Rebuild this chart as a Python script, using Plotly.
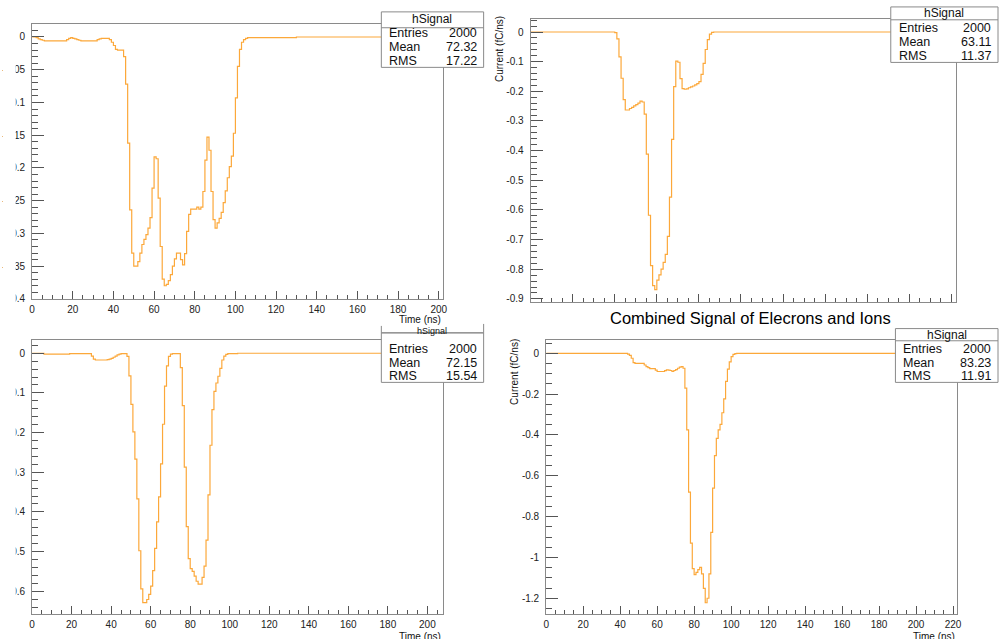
import plotly.graph_objects as go

W, H = 1004, 639

# ---------------- data (bin contents, 1 ns bins starting at 0 ns) ----------------
bin_width_ns = 1.0

tl_values = [
    0.0, 0.0, -0.001, -0.003, -0.004, -0.005,
    -0.006, -0.006, -0.006, -0.006, -0.006, -0.006, -0.006, -0.006, -0.006, -0.006, -0.006,
    -0.004, -0.002, -0.001, -0.002, -0.003, -0.004, -0.005,
    -0.006, -0.006, -0.006, -0.006, -0.006, -0.006, -0.006, -0.006,
    -0.004, -0.003, -0.002, -0.002, -0.002, -0.002,
    -0.004, -0.008, -0.013, -0.019, -0.020, -0.020, -0.020, -0.030,
    -0.072, -0.162, -0.264, -0.330, -0.350, -0.350, -0.343, -0.330, -0.317, -0.309,
    -0.302, -0.292, -0.276, -0.231, -0.183, -0.186, -0.246, -0.320, -0.370, -0.380,
    -0.378, -0.372, -0.363, -0.350, -0.339, -0.330, -0.330, -0.340, -0.348, -0.331,
    -0.297, -0.271, -0.263, -0.263, -0.263, -0.260, -0.263, -0.260, -0.236, -0.188,
    -0.153, -0.173, -0.236, -0.279, -0.292, -0.284, -0.277, -0.268, -0.253, -0.235,
    -0.215, -0.198, -0.182, -0.147, -0.093, -0.045, -0.019, -0.008, -0.004, -0.002,
    -0.001, -0.001, -0.001, -0.001, -0.001, -0.001, -0.001, -0.001, -0.001, -0.001,
    -0.001, -0.001, -0.001, -0.001, -0.001, -0.001, -0.001, -0.001, -0.001, -0.001,
    -0.001, -0.001, -0.001, -0.001,
]

tr_values = [0.0] * 40 + [
    -0.002, -0.023, -0.084, -0.156, -0.228, -0.263, -0.263, -0.258, -0.254, -0.249,
    -0.245, -0.240, -0.233, -0.236, -0.277, -0.412, -0.618, -0.788, -0.855, -0.869,
    -0.837, -0.819, -0.800, -0.777, -0.750, -0.689, -0.557, -0.362, -0.184, -0.098,
    -0.102, -0.157, -0.191, -0.193, -0.192, -0.188, -0.185, -0.182, -0.178, -0.174,
    -0.167, -0.143, -0.106, -0.059, -0.026, -0.007, -0.001,
]

bl_values = [
    0.0, 0.0, 0.0, 0.0, 0.0, 0.0,
    -0.002, -0.002, -0.002, -0.002, -0.002, -0.002, -0.002, -0.002, -0.002, -0.002,
    -0.002, -0.002, -0.002,
    -0.001, -0.001, -0.001, -0.001, -0.001, -0.001, -0.001, -0.001, -0.001, -0.001, -0.001,
    -0.007, -0.015, -0.017, -0.017, -0.017, -0.017, -0.017, -0.017, -0.016, -0.015,
    -0.013, -0.010, -0.007, -0.004, -0.002, -0.001, -0.001, -0.001, -0.008, -0.057,
    -0.129, -0.198, -0.267, -0.367, -0.498, -0.594, -0.629, -0.629, -0.621, -0.608,
    -0.587, -0.548, -0.492, -0.425, -0.362, -0.279, -0.179, -0.083, -0.032, -0.008,
    -0.002, -0.001, -0.001, -0.001, -0.001, -0.036, -0.132, -0.287, -0.437, -0.518,
    -0.543, -0.550, -0.562, -0.575, -0.582, -0.582, -0.565, -0.537, -0.471, -0.357,
    -0.232, -0.142, -0.096, -0.075, -0.058, -0.038, -0.017, -0.007, -0.003, -0.001,
    -0.001, -0.001, -0.001, -0.001,
]

br_values = [0.0] * 44 + [
    -0.004, -0.010, -0.024, -0.045, -0.049, -0.049, -0.049, -0.049, -0.049, -0.057,
    -0.065, -0.070, -0.075, -0.075, -0.075, -0.082, -0.089, -0.089, -0.089, -0.089,
    -0.085, -0.081, -0.082, -0.084, -0.089, -0.084, -0.080, -0.073, -0.068, -0.065,
    -0.073, -0.170, -0.375, -0.680, -0.930, -1.055, -1.084, -1.073, -1.060, -1.049,
    -1.081, -1.152, -1.222, -1.200, -1.081, -0.877, -0.660, -0.501, -0.417, -0.375,
    -0.348, -0.291, -0.223, -0.137, -0.077, -0.042, -0.016, -0.005, -0.001,
]

hist_name = "hSignal"
stats_entries = ["2000", "2000", "2000", "2000"]
stats_mean = ["72.32", "63.11", "72.15", "83.23"]
stats_rms = ["17.22", "11.37", "15.54", "11.91"]

x_tickvals = [0, 20, 40, 60, 80, 100, 120, 140, 160, 180, 200, 220]
x_ticktext = ["0", "20", "40", "60", "80", "100", "120", "140", "160", "180", "200", "220"]

tl_yticks = [0, -0.05, -0.1, -0.15, -0.2, -0.25, -0.3, -0.35, -0.4]
tl_ylabels = ["0", "-0.05", "-0.1", "-0.15", "-0.2", "-0.25", "-0.3", "-0.35", "-0.4"]
tr_yticks = [0, -0.1, -0.2, -0.3, -0.4, -0.5, -0.6, -0.7, -0.8, -0.9]
tr_ylabels = ["0", "-0.1", "-0.2", "-0.3", "-0.4", "-0.5", "-0.6", "-0.7", "-0.8", "-0.9"]
bl_yticks = [0, -0.1, -0.2, -0.3, -0.4, -0.5, -0.6]
bl_ylabels = ["0", "-0.1", "-0.2", "-0.3", "-0.4", "-0.5", "-0.6"]
br_yticks = [0, -0.2, -0.4, -0.6, -0.8, -1.0, -1.2]
br_ylabels = ["0", "-0.2", "-0.4", "-0.6", "-0.8", "-1", "-1.2"]

main_title = "Combined Signal of Elecrons and Ions"
x_title = "Time (ns)"
y_title = "Current (fC/ns)"

# ---------------- layout helpers ----------------
FONT = "Liberation Sans, Arial, Helvetica, sans-serif"
LINE_COLOR = "#fca83a"
FRAME = "#8a8a8a"
TICKC = "#555555"


def px(x):
    return x / W


def py(y):
    return 1 - y / H


panels = [
    dict(v=tl_values, xd=(29.3, 443.3), yd=(24, 301.7), xr=(0, 202.2), yr=(-0.4, 0.0202),
         yt=tl_yticks, yl=tl_ylabels, ymin=0.01, xlab=True),
    dict(v=tr_values, xd=(531.3, 959.3), yd=(19, 305), xr=(0, 202), yr=(-0.911, 0.0445),
         yt=tr_yticks, yl=tr_ylabels, ymin=0.02, xlab=False),
    dict(v=bl_values, xd=(29.3, 443.3), yd=(343, 620), xr=(0, 208), yr=(-0.658, 0.034),
         yt=bl_yticks, yl=bl_ylabels, ymin=0.02, xlab=True),
    dict(v=br_values, xd=(547, 961), yd=(343.3, 620), xr=(0, 222.3), yr=(-1.278, 0.065),
         yt=br_yticks, yl=br_ylabels, ymin=0.05, xlab=True),
]

fig = go.Figure()
layout = dict(
    width=W, height=H, autosize=False,
    margin=dict(l=0, r=0, t=0, b=0, pad=0),
    paper_bgcolor="white", plot_bgcolor="white",
    showlegend=False,
    font=dict(family=FONT, color="#222222", size=10),
)

for i, p in enumerate(panels):
    n = i + 1
    xa = "x" if n == 1 else f"x{n}"
    ya = "y" if n == 1 else f"y{n}"
    vals = list(p["v"])
    nb = int(p["xr"][1] / bin_width_ns) + 1
    vals = vals + [0.0] * max(0, nb - len(vals))
    xs = [k * bin_width_ns for k in range(len(vals) + 1)]
    ys = vals + [vals[-1]]
    fig.add_trace(go.Scatter(
        x=xs, y=ys, mode="lines", line=dict(color=LINE_COLOR, width=1.2, shape="hv"),
        xaxis=xa, yaxis=ya, hoverinfo="skip",
    ))
    xkey = "xaxis" if n == 1 else f"xaxis{n}"
    ykey = "yaxis" if n == 1 else f"yaxis{n}"
    layout[xkey] = dict(
        domain=[px(p["xd"][0]), px(p["xd"][1])], range=list(p["xr"]), anchor=ya,
        showline=True, linecolor=FRAME, linewidth=1, mirror=True,
        showgrid=False, zeroline=False,
        ticks="inside", ticklen=8, tickwidth=1, tickcolor=TICKC,
        tickvals=x_tickvals, ticktext=x_ticktext, ticklabelstandoff=1,
        minor=dict(ticks="inside", ticklen=4, dtick=5, tick0=0, tickcolor=TICKC, tickwidth=1, showgrid=False),
        showticklabels=p["xlab"], tickfont=dict(size=10, color="#222222", family=FONT),
    )
    layout[ykey] = dict(
        domain=[py(p["yd"][1]), py(p["yd"][0])], range=list(p["yr"]), anchor=xa,
        showline=True, linecolor=FRAME, linewidth=1, mirror=True,
        showgrid=False, zeroline=False,
        ticks="inside", ticklen=12, tickwidth=1, tickcolor=TICKC,
        tickvals=p["yt"], ticktext=p["yl"], ticklabelstandoff=4,
        minor=dict(ticks="inside", ticklen=6, dtick=p["ymin"], tick0=0, tickcolor=TICKC, tickwidth=1, showgrid=False),
        tickfont=dict(size=10, color="#222222", family=FONT),
    )

shapes = []
annotations = []


def rect(x0, y0, x1, y1, fill="white", line=FRAME, lw=1):
    shapes.append(dict(type="rect", xref="paper", yref="paper", x0=px(x0), x1=px(x1),
                       y0=py(y1), y1=py(y0), fillcolor=fill,
                       line=dict(color=line, width=lw), layer="above"))


def hline(x0, x1, y):
    shapes.append(dict(type="line", xref="paper", yref="paper", x0=px(x0), x1=px(x1),
                       y0=py(y), y1=py(y), line=dict(color=FRAME, width=1), layer="above"))


def vline(x, y0, y1):
    shapes.append(dict(type="line", xref="paper", yref="paper", x0=px(x), x1=px(x),
                       y0=py(y0), y1=py(y1), line=dict(color=FRAME, width=1), layer="above"))


def text(s, x, y, size=12, xanchor="center", angle=0, color="#111111"):
    annotations.append(dict(text=s, x=px(x), y=py(y), xref="paper", yref="paper",
                            showarrow=False, xanchor=xanchor, yanchor="middle",
                            textangle=angle, font=dict(size=size, family=FONT, color=color)))


# mask reproducing the cropped left edge of the screenshot
shapes.append(dict(type="rect", xref="paper", yref="paper", x0=0, x1=px(12.8), y0=0, y1=1,
                   fillcolor="white", line=dict(width=0), layer="above"))

# stats boxes: (x0, ytop, x1, ybottom, separator, title y, title size, row ys, left x, right x)
boxes = [
    (381, 12, 484, 68, 28, 19.5, 12, (33.5, 47.5, 61.5), 386.5, 479),
    (894, 7, 1002, 63, 20, 13.5, 12, (28, 42.3, 56.5), 900, 997),
    (381, 336, 484, 386, 336, 334.5, 9, (352, 366, 380), 386.5, 479),
    (898.7, 331.7, 1002, 386, 344, 338, 12, (352.3, 366, 380), 904, 997),
]
for i, (x0, yt, x1, yb, sep, ty, ts, rows, lx, rx) in enumerate(boxes):
    rect(x0, yt, x1, yb)
    hline(x0, x1, sep)
    if i == 2:
        vline(x0, 329, 336)
        vline(x1, 327, 336)
    text(hist_name, (x0 + x1) / 2, ty, size=ts)
    for label, val, yy in zip(["Entries", "Mean", "RMS"],
                              [stats_entries[i], stats_mean[i], stats_rms[i]], rows):
        text(label, lx, yy, size=12.5, xanchor="left")
        text(val, rx, yy, size=12.5, xanchor="right")

# axis titles and main title
text(x_title, 443.5, 322.5, size=10, xanchor="right")
text(x_title, 443.5, 642.5, size=10, xanchor="right")
text(x_title, 961, 642.5, size=10, xanchor="right")
text(y_title, 500, 50, size=10, angle=-90)
text(y_title, 515, 375, size=10, angle=-90)
text(main_title, 753, 321, size=16.5, color="#000000")

layout["shapes"] = shapes
layout["annotations"] = annotations
fig.update_layout(**layout)

fig.write_html("out.html")
